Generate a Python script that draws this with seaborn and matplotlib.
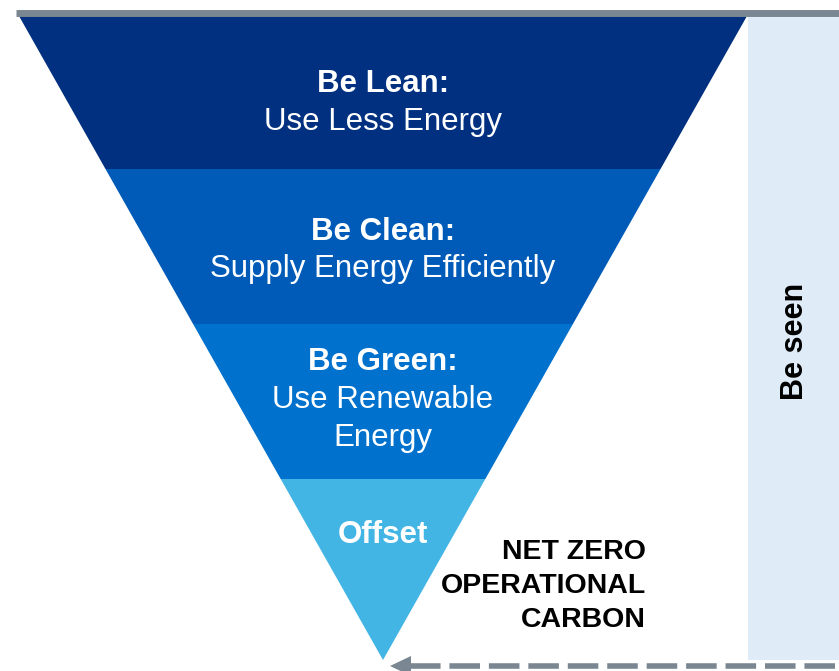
import matplotlib
matplotlib.use("Agg")
import matplotlib.pyplot as plt
import seaborn as sns
import numpy as np

# ---- data ----
stage_titles = ["Be Lean:", "Be Clean:", "Be Green:", "Offset"]
stage_subtitles = ["Use Less Energy", "Supply Energy Efficiently", "Use Renewable\nEnergy", ""]
stage_heights = [153, 155, 155, 181]          # relative depth of each funnel band
outcome_label = ["NET ZERO", "OPERATIONAL", "CARBON"]
side_label = "Be seen"

# ---- style ----
sns.set_theme(style="white")
plt.rcParams['font.family'] = ['Liberation Sans', 'DejaVu Sans']
band_colors = ["#00307F", "#005BB8", "#0071CC", "#43B5E5"]
grey = "#7A8792"
light = "#DFEBF6"

W, H = 839, 671
fig = plt.figure(figsize=(W / 100, H / 100), dpi=100)
ax = fig.add_axes([0, 0, 1, 1])
ax.set_xlim(0, W)
ax.set_ylim(H, 0)
ax.axis("off")

top_y, x_left, x_right, cx = 16, 20, 748, 383
total = sum(stage_heights)
apex_y = top_y + total
half_top = (x_right - x_left) / 2


def half_width(y):
    return half_top * (apex_y - y) / (apex_y - top_y)


# side panel
ax.add_patch(plt.Rectangle((x_right, top_y), W - x_right + 5, apex_y - top_y,
                           facecolor=light, edgecolor="none", zorder=0))
ax.text(795, 341, side_label, rotation=90, ha="center", va="center",
        fontsize=22, fontweight="bold", color="black")

# funnel bands
y0 = top_y
for h, c in zip(stage_heights, band_colors):
    y1 = y0 + h
    w0, w1 = half_width(y0), half_width(y1)
    ax.fill([cx - w0, cx + w0, cx + w1, cx - w1], [y0, y0, y1, y1],
            color=c, lw=0, zorder=2)
    y0 = y1

# top grey line
ax.plot([16, W], [12.5, 12.5], color=grey, lw=5, solid_capstyle="butt", zorder=3)

# labels
title_y = [84, 232, 362, 535]
sub_y = [122, 269, 400, None]
for t, s, ty, sy in zip(stage_titles, stage_subtitles, title_y, sub_y):
    ax.text(cx, ty, t, ha="center", va="center", color="white",
            fontsize=22.5, fontweight="bold", zorder=4)
    if s:
        for j, line in enumerate(s.split("\n")):
            ax.text(cx, sy + j * 38, line, ha="center", va="center",
                    color="white", fontsize=22.5, zorder=4)

for i, line in enumerate(outcome_label):
    ax.text(646, 552 + i * 34, line, ha="right", va="center",
            fontsize=20.5, fontweight="bold", color="black", zorder=4)

# dashed arrow along the bottom
ax.plot([410, W + 5], [666, 666], color=grey, lw=4, ls=(0, (5.5, 1.6)),
        solid_capstyle="butt", dash_capstyle="butt", zorder=3)
ax.fill([390, 411, 411], [666, 656, 676], color=grey, lw=0, zorder=3)

fig.savefig("out.png", dpi=100)
